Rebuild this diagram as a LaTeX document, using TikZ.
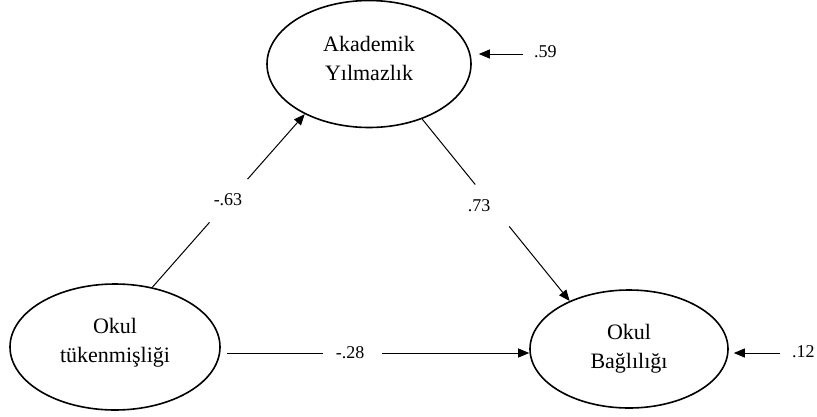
\documentclass[tikz,border=0pt]{standalone}
\usepackage{fontspec}
\setmainfont{Liberation Serif}
\usetikzlibrary{shapes.geometric,arrows.meta,calc}

\tikzset{
  latent/.style={ellipse, draw, line width=1.6pt, inner sep=0pt, align=center,
                 font=\fontsize{22}{29}\selectfont},
  path/.style={line width=1pt},
  tip/.style={-{Triangle[length=11pt,width=9pt]}},
  coef/.style={font=\fontsize{18}{20}\selectfont, inner sep=0pt}
}

\begin{document}
\begin{tikzpicture}[x=1pt,y=-1pt]
  \useasboundingbox (0,0) rectangle (817,416);

  % latent variables
  \node[latent, minimum width=204pt, minimum height=127pt, text depth=12pt] (ay) at (369,64) {Akademik\\Yılmazlık};
  \node[latent, minimum width=210pt, minimum height=126pt, text depth=13pt] (ot) at (115,347) {Okul\\tükenmişliği};
  \node[latent, minimum width=198pt, minimum height=118pt] (ob) at (629,349) {Okul\\Bağlılığı};

  % Okul tükenmişliği -> Akademik Yılmazlık
  \path (ot.58) coordinate (a1) (ay.-142) coordinate (a2);
  \draw[path] (a1) -- ($(a1)!0.375!(a2)$);
  \draw[path,tip] ($(a1)!0.625!(a2)$) -- (a2);
  \node[coef] (c1) at (228,200) {-.63};

  % Akademik Yılmazlık -> Okul Bağlılığı
  \path (ay.-46) coordinate (b1) (ob.141) coordinate (b2);
  \draw[path] (b1) -- ($(b1)!0.36!(b2)$);
  \draw[path,tip] ($(b1)!0.59!(b2)$) -- (b2);
  \node[coef] (c2) at (479,206) {.73};

  % Okul tükenmişliği -> Okul Bağlılığı
  \path ([xshift=6pt,yshift=-6pt]ot.east) coordinate (h1)
        (ob.west |- h1) coordinate (h2);
  \draw[path] (h1) -- ($(h1)!0.319!(h2)$);
  \draw[path,tip] ($(h1)!0.512!(h2)$) -- (h2);
  \node[coef] (c3) at (350,353) {-.28};

  % residual terms
  \coordinate (e1) at (523,54);
  \draw[path,tip,shorten >=7pt] (e1) -- (ay.east |- e1);
  \node[coef, anchor=west] (r1) at (534,52) {.59};

  \coordinate (e2) at (780,353);
  \draw[path,tip,shorten >=5pt] (e2) -- (ob.east |- e2);
  \node[coef, anchor=west] (r2) at (792,352) {.12};
\end{tikzpicture}
\end{document}
